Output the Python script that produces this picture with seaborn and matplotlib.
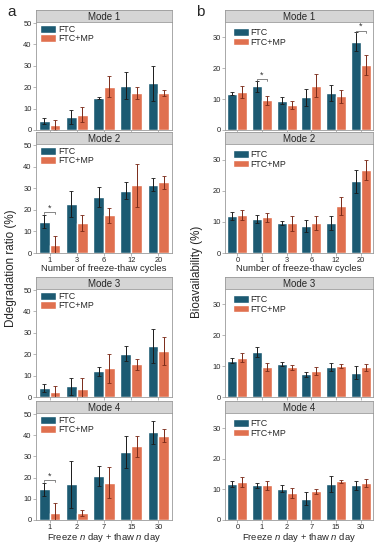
import numpy as np
import pandas as pd
import matplotlib
matplotlib.use('Agg')
import matplotlib.pyplot as plt
import seaborn as sns

sns.set_style('ticks')
plt.rcParams['font.family'] = ['Liberation Sans', 'DejaVu Sans']
plt.rcParams['mathtext.fontset'] = 'custom'
plt.rcParams['mathtext.it'] = 'Liberation Sans:italic'
plt.rcParams['mathtext.rm'] = 'Liberation Sans'

# =============================================================================
# Data
# =============================================================================
groups = ['FTC', 'FTC+MP']
cycles_a = ['1', '3', '6', '12', '20']
days_a = ['1', '2', '7', '15', '30']
cycles_b = ['0', '1', '3', '6', '12', '20']
days_b = ['0', '1', '2', '7', '15', '30']

# panel a - degradation ratio (%)
a1_ftc = [4.3, 6.2, 14.9, 20.8, 21.8]
a1_ftc_sd = [1.5, 3.3, 0.5, 6.4, 8.2]
a1_mp = [2.3, 7.2, 20.3, 17.5, 17.5]
a1_mp_sd = [2.3, 3.6, 5.1, 2.8, 1.4]

a2_ftc = [14.4, 22.9, 26.0, 28.9, 31.7]
a2_ftc_sd = [3.0, 6.0, 4.6, 3.8, 3.0]
a2_mp = [3.7, 13.8, 17.4, 31.3, 32.7]
a2_mp_sd = [4.3, 3.6, 3.6, 10.0, 3.2]

a3_ftc = [4.3, 5.0, 12.0, 20.3, 23.9]
a3_ftc_sd = [1.8, 4.1, 2.2, 3.6, 7.8]
a3_mp = [2.3, 3.8, 13.4, 15.2, 21.6]
a3_mp_sd = [2.7, 5.0, 6.7, 2.8, 6.6]

a4_ftc = [14.5, 16.8, 20.8, 32.1, 41.3]
a4_ftc_sd = [3.1, 11.0, 4.7, 7.5, 5.2]
a4_mp = [3.4, 3.4, 17.6, 34.7, 39.8]
a4_mp_sd = [4.6, 1.3, 7.2, 4.9, 3.0]

# panel b - bioavailability (%)
b1_ftc = [11.8, 14.2, 9.5, 10.6, 12.0, 28.6]
b1_ftc_sd = [0.5, 1.8, 1.2, 2.8, 2.7, 3.0]
b1_mp = [12.3, 9.6, 8.0, 14.4, 10.9, 21.0]
b1_mp_sd = [1.9, 1.5, 1.3, 3.6, 2.2, 3.2]

b2_ftc = [11.8, 11.0, 9.6, 8.8, 9.6, 23.0]
b2_ftc_sd = [1.3, 1.3, 0.6, 1.9, 2.2, 3.6]
b2_mp = [12.3, 11.5, 9.6, 9.6, 15.0, 26.6]
b2_mp_sd = [1.6, 1.4, 2.4, 2.2, 2.9, 3.2]

b3_ftc = [11.8, 14.5, 10.6, 7.4, 9.8, 7.9]
b3_ftc_sd = [0.7, 1.6, 0.6, 0.8, 1.3, 2.2]
b3_mp = [12.8, 9.8, 9.6, 8.4, 10.0, 9.6]
b3_mp_sd = [1.4, 1.3, 0.8, 1.4, 0.7, 1.1]

b4_ftc = [11.8, 11.3, 10.3, 7.0, 11.9, 11.3]
b4_ftc_sd = [1.1, 0.8, 1.3, 2.1, 2.6, 1.4]
b4_mp = [12.4, 11.4, 8.9, 9.4, 12.7, 12.1]
b4_mp_sd = [1.7, 1.5, 1.6, 0.8, 0.5, 1.3]

# significance marks: (category index, bracket height)
sig_a2 = [(0, 19.0)]
sig_a4 = [(0, 19.0)]
sig_b1 = [(1, 16.6), (5, 32.2)]

# =============================================================================
# Styling
# =============================================================================
c_ftc = '#1c5a72'
c_mp = '#e0704f'
err_cols = ['#1a1a1a', '#7a2a18']
spine_col = '#9a9a9a'
W, H = 378, 544

fig = plt.figure(figsize=(W / 100, H / 100), dpi=100)


def box(x0, x1, y0, y1):
    return [x0 / W, 1 - y1 / H, (x1 - x0) / W, (y1 - y0) / H]


def header(x0, x1, y0, y1, text):
    hx = fig.add_axes(box(x0, x1, y0, y1))
    hx.set_facecolor('#d5d5d5')
    hx.set_xticks([])
    hx.set_yticks([])
    for s in hx.spines.values():
        s.set_color(spine_col)
        s.set_linewidth(0.6)
    hx.text(0.5, 0.45, text, ha='center', va='center', fontsize=7,
            transform=hx.transAxes)


def panel(x0, x1, y_head, y_top, y_bot, title, cats, ftc, ftc_sd, mp, mp_sd,
          ymax, yticks, xlabel=None, sig=(), leg_pad=(0.02, 0.99)):
    header(x0, x1, y_head, y_top, title)
    ax = fig.add_axes(box(x0, x1, y_top, y_bot))
    df = pd.DataFrame({'x': cats * 2,
                       'val': ftc + mp,
                       'group': [groups[0]] * len(cats) + [groups[1]] * len(cats)})
    sns.barplot(data=df, x='x', y='val', hue='group', order=cats,
                hue_order=groups, palette=[c_ftc, c_mp], errorbar=None,
                width=0.8, saturation=1, ax=ax)
    for cont, sd, ec in zip(ax.containers, [ftc_sd, mp_sd], err_cols):
        xs = [p.get_x() + p.get_width() / 2 for p in cont]
        hs = [p.get_height() for p in cont]
        ax.errorbar(xs, hs, yerr=sd, fmt='none', ecolor=ec, elinewidth=0.7,
                    capsize=1.3, capthick=0.6)
    for i, yb in sig:
        x_l, x_r = i - 0.2, i + 0.2
        ax.plot([x_l, x_l, x_r, x_r], [yb - ymax * 0.02, yb, yb, yb - ymax * 0.02],
                color='#555555', lw=0.5)
        ax.text(i, yb - ymax * 0.005, '*', ha='center', va='bottom',
                fontsize=6.5, color='#333333')
    ax.set_ylim(0, ymax)
    ax.set_xlim(-0.5, len(cats) - 0.5)
    ax.set_yticks(yticks)
    ax.tick_params(axis='both', labelsize=5.4, length=2, width=0.5,
                   color=spine_col, pad=1.2)
    for s in ax.spines.values():
        s.set_color(spine_col)
        s.set_linewidth(0.6)
    ax.set_ylabel('')
    if xlabel:
        ax.set_xlabel(xlabel, fontsize=6.8, labelpad=0)
    else:
        ax.set_xlabel('')
        ax.set_xticklabels([])
    ax.legend(loc='upper left', bbox_to_anchor=leg_pad, frameon=False,
              fontsize=6.4, handlelength=1.8, handleheight=0.95,
              handletextpad=0.15, labelspacing=0.05, borderaxespad=0.1,
              borderpad=0.1)
    return ax


xa0, xa1 = 36, 172
xb0, xb1 = 225, 373
rows = [(10, 22, 130), (132, 144, 253), (277, 289, 397), (401, 413, 520)]
lab_cyc = 'Number of freeze-thaw cycles'
lab_day = 'Freeze $n$ day + thaw $n$ day'

yt_a = [0, 10, 20, 30, 40, 50]
yt_b = [0, 10, 20, 30]

panel(xa0, xa1, *rows[0], 'Mode 1', cycles_a, a1_ftc, a1_ftc_sd, a1_mp, a1_mp_sd, 50.5, yt_a)
panel(xa0, xa1, *rows[1], 'Mode 2', cycles_a, a2_ftc, a2_ftc_sd, a2_mp, a2_mp_sd, 50.5, yt_a,
      xlabel=lab_cyc, sig=sig_a2)
panel(xa0, xa1, *rows[2], 'Mode 3', days_a, a3_ftc, a3_ftc_sd, a3_mp, a3_mp_sd, 50.5, yt_a)
panel(xa0, xa1, *rows[3], 'Mode 4', days_a, a4_ftc, a4_ftc_sd, a4_mp, a4_mp_sd, 50.5, yt_a,
      xlabel=lab_day, sig=sig_a4)

panel(xb0, xb1, *rows[0], 'Mode 1', cycles_b, b1_ftc, b1_ftc_sd, b1_mp, b1_mp_sd, 35, yt_b,
      sig=sig_b1, leg_pad=(0.04, 0.96))
panel(xb0, xb1, *rows[1], 'Mode 2', cycles_b, b2_ftc, b2_ftc_sd, b2_mp, b2_mp_sd, 35, yt_b,
      xlabel=lab_cyc, leg_pad=(0.04, 0.96))
panel(xb0, xb1, *rows[2], 'Mode 3', days_b, b3_ftc, b3_ftc_sd, b3_mp, b3_mp_sd, 35, yt_b,
      leg_pad=(0.04, 0.96))
panel(xb0, xb1, *rows[3], 'Mode 4', days_b, b4_ftc, b4_ftc_sd, b4_mp, b4_mp_sd, 35, yt_b,
      xlabel=lab_day, leg_pad=(0.04, 0.96))

fig.text(11 / W, 1 - 268 / H, 'Ddegradation ratio (%)', rotation=90,
         ha='center', va='center', fontsize=8.4)
fig.text(197 / W, 1 - 272 / H, 'Bioavailability (%)', rotation=90,
         ha='center', va='center', fontsize=8.4)
fig.text(7 / W, 1 - 12 / H, 'a', fontsize=11, ha='left', va='center')
fig.text(196 / W, 1 - 12 / H, 'b', fontsize=11, ha='left', va='center')

fig.savefig('out.png', dpi=100)
